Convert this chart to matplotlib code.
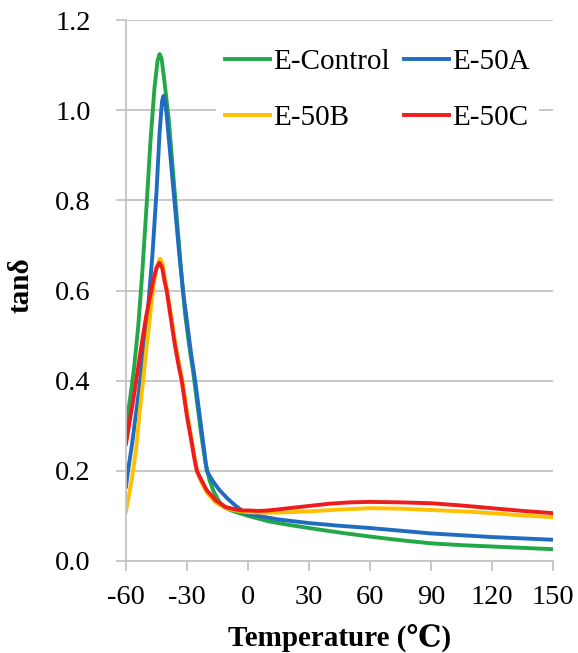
import matplotlib.pyplot as plt

# readings (temperature in C, tan delta)
t_ctrl = [-60, -58, -56, -54, -52, -50, -48, -46, -44.5, -43.5, -42.5, -41, -39, -37, -35,
          -33, -31, -29, -27, -25, -23, -21, -19, -17, -14, -10, -5, 0,
          10, 20, 30, 45, 60, 75, 90, 105, 120, 135, 150]
v_ctrl = [0.30, 0.36, 0.43, 0.52, 0.64, 0.78, 0.93, 1.05, 1.11, 1.125, 1.115, 1.06, 0.98, 0.87, 0.76,
          0.65, 0.55, 0.48, 0.42, 0.35, 0.28, 0.22, 0.18, 0.155, 0.13, 0.115, 0.107, 0.100,
          0.088, 0.080, 0.073, 0.063, 0.054, 0.046, 0.039, 0.035, 0.032, 0.029, 0.026]

t_50a = [-60, -59, -57, -55, -53, -51, -49, -47, -45, -43.5, -42.3, -41.6, -40.8, -40, -38,
         -36, -34, -32, -30, -28, -26, -24, -22, -20.3, -17, -14, -10, -6, -3, 0,
         15, 30, 45, 60, 75, 90, 105, 120, 135, 150]
v_50a = [0.165, 0.20, 0.26, 0.33, 0.40, 0.48, 0.57, 0.68, 0.82, 0.95, 1.02, 1.032, 1.02, 0.99, 0.89,
         0.79, 0.69, 0.60, 0.53, 0.46, 0.40, 0.33, 0.26, 0.20, 0.175, 0.157, 0.138, 0.122, 0.112, 0.104,
         0.092, 0.084, 0.078, 0.073, 0.067, 0.061, 0.057, 0.053, 0.050, 0.047]

t_50b = [-60, -59, -58, -57, -56.5, -55, -53.5, -51.6, -50, -48, -46.5, -45, -43.3, -42, -41,
         -40, -38, -36, -34, -32.3, -30, -28, -26.5, -25, -23, -20, -16, -11, -6, 0,
         10, 20, 30, 45, 60, 75, 90, 105, 120, 135, 150]
v_50b = [0.11, 0.135, 0.16, 0.185, 0.20, 0.25, 0.32, 0.40, 0.47, 0.55, 0.61, 0.65, 0.671, 0.66, 0.63,
         0.605, 0.55, 0.49, 0.44, 0.40, 0.33, 0.275, 0.235, 0.20, 0.175, 0.15, 0.13, 0.117, 0.112, 0.108,
         0.107, 0.108, 0.110, 0.114, 0.117, 0.116, 0.113, 0.110, 0.106, 0.101, 0.097]

t_50c = [-60, -58, -56, -54, -52, -50, -48, -46.5, -45, -43.6, -42.2, -41, -40, -38, -36,
         -34, -32.6, -30, -28, -26.5, -25.2, -23, -20.3, -16, -11.3, -6, -3, 0,
         5, 10, 20, 30, 40, 50, 60, 75, 90, 105, 120, 135, 150]
v_50c = [0.26, 0.315, 0.37, 0.43, 0.49, 0.545, 0.59, 0.625, 0.65, 0.662, 0.65, 0.62, 0.60, 0.54, 0.48,
         0.43, 0.40, 0.32, 0.27, 0.23, 0.20, 0.18, 0.157, 0.135, 0.12, 0.114, 0.112, 0.112,
         0.111, 0.112, 0.117, 0.122, 0.127, 0.130, 0.131, 0.130, 0.128, 0.123, 0.117, 0.111, 0.106]

xticks = [-60, -30, 0, 30, 60, 90, 120, 150]
yticks = [0.0, 0.2, 0.4, 0.6, 0.8, 1.0, 1.2]

serif = ['Liberation Serif', 'DejaVu Serif']
plt.rcParams['font.family'] = serif
gray = '#c4c4c4'

fig = plt.figure(figsize=(5.78, 6.53), dpi=100)
ax = fig.add_axes([0.218, 0.141, 0.739, 0.828])

l1, = ax.plot(t_ctrl, v_ctrl, color='#22a846', lw=2.8, label='E-Control')
l2, = ax.plot(t_50a, v_50a, color='#1f6cc0', lw=2.8, label='E-50A')
l3, = ax.plot(t_50b, v_50b, color='#ffc000', lw=2.8, label='E-50B')
l4, = ax.plot(t_50c, v_50c, color='#ee1c1c', lw=2.8, label='E-50C')

ax.set_xlim(-60, 150)
ax.set_ylim(0, 1.2)
ax.set_xticks(xticks)
ax.set_xticklabels([str(t) for t in xticks])
ax.set_yticks(yticks)
ax.set_yticklabels([f'{v:.1f}' for v in yticks])
ax.grid(axis='y', color=gray, lw=1.3)
ax.set_axisbelow(True)
for s in ['top', 'right']:
    ax.spines[s].set_visible(False)
for s in ['left', 'bottom']:
    ax.spines[s].set_color(gray)
    ax.spines[s].set_linewidth(1.3)
ax.tick_params(axis='both', direction='out', length=7, width=1.3, color=gray,
               labelsize=20.5)
ax.tick_params(axis='x', pad=10)
ax.tick_params(axis='y', pad=18.5)

ax.set_xlabel('Temperature (℃)', fontsize=21, fontweight='bold', va='center')
ax.xaxis.set_label_coords(0.5, -0.142)
ax.set_ylabel('tanδ', fontsize=21, fontweight='bold', va='center')
ax.yaxis.set_label_coords(-0.245, 0.51)

leg = ax.legend(handles=[l1, l3, l2, l4], ncol=2, fontsize=21,
                loc='upper right', bbox_to_anchor=(1.0, 0.99),
                frameon=True, facecolor='white', edgecolor='none', framealpha=1,
                handlelength=1.55, handletextpad=0.1, columnspacing=0.5,
                labelspacing=1.0, borderpad=0.3)

fig.savefig('out.png', dpi=100)
